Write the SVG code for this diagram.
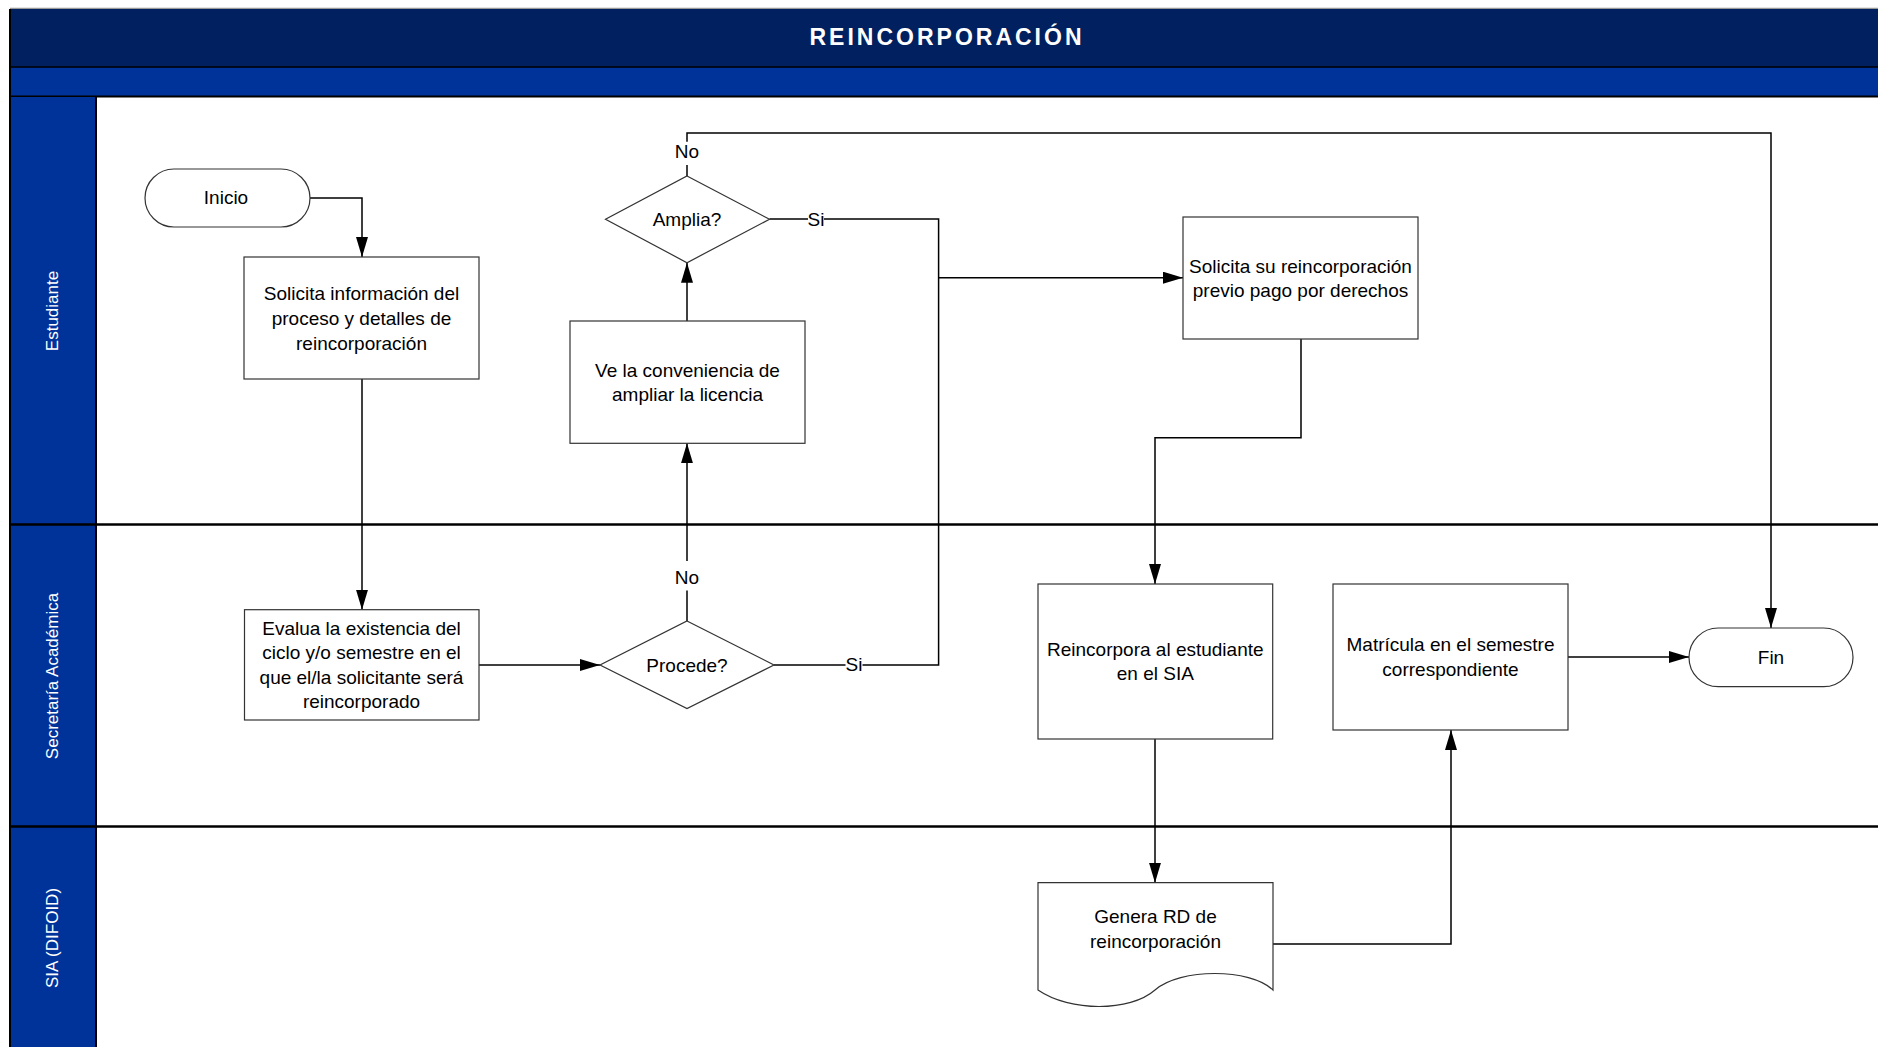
<svg xmlns="http://www.w3.org/2000/svg" width="1878" height="1047" viewBox="0 0 1878 1047">
  <style>
    .lbl { font-family: "Liberation Sans", Arial, sans-serif; font-size: 19px; fill: #000; text-anchor: middle; }
    .lane { font-family: "Liberation Sans", Arial, sans-serif; font-size: 17px; fill: #fff; text-anchor: middle; dominant-baseline: central; }
    .title { font-family: "Liberation Sans", Arial, sans-serif; font-size: 23px; font-weight: bold; fill: #fff; text-anchor: middle; letter-spacing: 3px; }
    .shape { fill: #fff; stroke: #333; stroke-width: 1.2; }
    .conn { fill: none; stroke: #000; stroke-width: 1.5; }
    .arr { marker-end: url(#ah); }
    .sep { stroke: #000; stroke-width: 2.5; }
  </style>
  <defs>
    <marker id="ah" markerUnits="userSpaceOnUse" markerWidth="20" markerHeight="12" refX="20" refY="6" orient="auto">
      <path d="M0,0 L20,6 L0,12 z" fill="#000"/>
    </marker>
  </defs>

  <rect x="0" y="0" width="1878" height="1047" fill="#fff"/>

  <g id="pool">
    <line x1="10" y1="8.5" x2="1878" y2="8.5" stroke="#999" stroke-width="1.5"/>
    <rect x="10" y="9" width="1868" height="58" fill="#002060"/>
    <rect x="10" y="67" width="1868" height="29" fill="#003399"/>
    <line x1="10" y1="67" x2="1878" y2="67" stroke="#000" stroke-width="1.5"/>
    <line x1="10" y1="96.5" x2="1878" y2="96.5" stroke="#000" stroke-width="2"/>
    <text class="title" x="947" y="44.5">REINCORPORACIÓN</text>
    <rect x="10" y="97" width="86" height="950" fill="#003399"/>
    <line x1="10" y1="9" x2="10" y2="1047" stroke="#000" stroke-width="2"/>
    <line x1="96" y1="97" x2="96" y2="1047" stroke="#000" stroke-width="2"/>
    <line class="sep" x1="10" y1="524.6" x2="1878" y2="524.6"/>
    <line class="sep" x1="10" y1="826.4" x2="1878" y2="826.4"/>
  </g>

  <g id="lane-estudiante">
    <text class="lane" transform="translate(52,311) rotate(-90)">Estudiante</text>
  </g>
  <g id="lane-secretaria">
    <text class="lane" transform="translate(52,676) rotate(-90)">Secretaría Académica</text>
  </g>
  <g id="lane-sia">
    <text class="lane" transform="translate(52,938) rotate(-90)">SIA (DIFOID)</text>
  </g>

  <g id="connectors">
    <path class="conn arr" d="M310,198 H362 V257"/>
    <path class="conn arr" d="M362,379 V609.7"/>
    <path class="conn arr" d="M479,665 H600"/>
    <path class="conn" d="M687,621 V590.5"/>
    <path class="conn arr" d="M687,561 V443.3"/>
    <path class="conn arr" d="M687,321 V262.7"/>
    <path class="conn" d="M687,176 V165"/>
    <path class="conn arr" d="M687,141.7 V133 H1771 V628"/>
    <path class="conn" d="M769.5,219 H808"/>
    <path class="conn" d="M824,219 H938.6 V665 H862.5"/>
    <path class="conn" d="M845.5,665 H774"/>
    <path class="conn arr" d="M938.6,277.7 H1183"/>
    <path class="conn arr" d="M1301,339 V437.7 H1155 V584"/>
    <path class="conn arr" d="M1155,739 V882.7"/>
    <path class="conn arr" d="M1273,944 H1451 V730"/>
    <path class="conn arr" d="M1568,657 H1689"/>
    <text class="lbl" x="687" y="158">No</text>
    <text class="lbl" x="687" y="583.5">No</text>
    <text class="lbl" x="816" y="226">Si</text>
    <text class="lbl" x="854" y="671">Si</text>
  </g>

  <g id="inicio">
    <rect class="shape" x="145" y="169" width="165" height="58" rx="29" ry="29"/>
    <text class="lbl" x="226" y="203.5">Inicio</text>
  </g>

  <g id="solicita-informacion">
    <rect class="shape" x="244" y="257" width="235" height="122"/>
    <text class="lbl" x="361.5" y="300">Solicita información del</text>
    <text class="lbl" x="361.5" y="325">proceso y detalles de</text>
    <text class="lbl" x="361.5" y="349.5">reincorporación</text>
  </g>

  <g id="evalua">
    <rect class="shape" x="244.5" y="609.7" width="234.5" height="110.3"/>
    <text class="lbl" x="361.5" y="634.5">Evalua la existencia del</text>
    <text class="lbl" x="361.5" y="659">ciclo y/o semestre en el</text>
    <text class="lbl" x="361.5" y="683.5">que el/la solicitante será</text>
    <text class="lbl" x="361.5" y="708">reincorporado</text>
  </g>

  <g id="procede">
    <polygon class="shape" points="687,621 774,665 687,708.6 600,665"/>
    <text class="lbl" x="687" y="671.5">Procede?</text>
  </g>

  <g id="ve-conveniencia">
    <rect class="shape" x="570" y="321" width="235" height="122.3"/>
    <text class="lbl" x="687.5" y="377">Ve la conveniencia de</text>
    <text class="lbl" x="687.5" y="401">ampliar la licencia</text>
  </g>

  <g id="amplia">
    <polygon class="shape" points="687,176 769.5,219.3 687,262.7 605.5,219.3"/>
    <text class="lbl" x="687" y="226">Amplia?</text>
  </g>

  <g id="solicita-reincorporacion">
    <rect class="shape" x="1183" y="217" width="235" height="122"/>
    <text class="lbl" x="1300.5" y="272.5">Solicita su reincorporación</text>
    <text class="lbl" x="1300.5" y="296.5">previo pago por derechos</text>
  </g>

  <g id="reincorpora">
    <rect class="shape" x="1038" y="584" width="234.7" height="155"/>
    <text class="lbl" x="1155.3" y="655.5">Reincorpora al estudiante</text>
    <text class="lbl" x="1155.3" y="680">en el SIA</text>
  </g>

  <g id="matricula">
    <rect class="shape" x="1333" y="584" width="235" height="146"/>
    <text class="lbl" x="1450.5" y="651">Matrícula en el semestre</text>
    <text class="lbl" x="1450.5" y="675.5">correspondiente</text>
  </g>

  <g id="fin">
    <rect class="shape" x="1689" y="628" width="164" height="58.7" rx="29.3" ry="29.3"/>
    <text class="lbl" x="1771" y="664">Fin</text>
  </g>

  <g id="genera-rd">
    <path class="shape" d="M1038,882.7 H1273 V990 C1250,968 1180,968 1155,990 C1130,1012 1070,1012 1038,990 Z"/>
    <text class="lbl" x="1155.5" y="923">Genera RD de</text>
    <text class="lbl" x="1155.5" y="947.5">reincorporación</text>
  </g>
</svg>
